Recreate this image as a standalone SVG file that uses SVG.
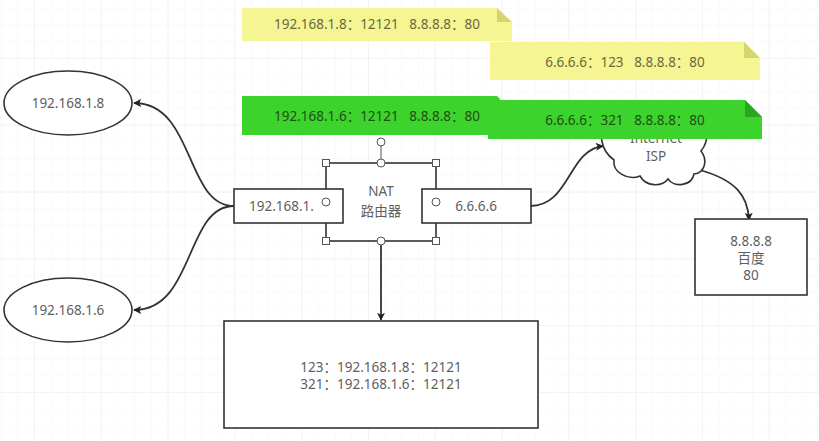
<svg xmlns="http://www.w3.org/2000/svg" width="819" height="441" viewBox="0 0 819 441">
<defs>
<pattern id="minor" x="34" y="58" width="16.7" height="16.7" patternUnits="userSpaceOnUse">
<path d="M0,0 V16.7 M0,0 H16.7" fill="none" stroke="#f6f6f6" stroke-width="1"/>
</pattern>
<pattern id="major" x="34" y="58" width="66.8" height="66.8" patternUnits="userSpaceOnUse">
<path d="M0,0 V66.8 M0,0 H66.8" fill="none" stroke="#ebebeb" stroke-width="1"/>
</pattern>
<marker id="arr" viewBox="0 0 10 10" refX="9" refY="5" markerWidth="8" markerHeight="8" orient="auto" markerUnits="userSpaceOnUse">
<path d="M0,0 L10,5 L0,10 L2.5,5 Z" fill="#222"/>
</marker>
<clipPath id="below"><rect x="600" y="139" width="120" height="60"/></clipPath>
<style>
.t{font-family:"Noto Sans","Noto Sans CJK SC",sans-serif;font-size:13.5px;fill:#5f5f5f;text-anchor:middle;white-space:pre}
.s{font-size:13.5px}
.b{fill:#fff;stroke:#333;stroke-width:1.6}
.c{fill:none;stroke:#333;stroke-width:1.8}
.h{fill:#fff;stroke:#555;stroke-width:1}
.yn{fill:#f6f594}
.yf{fill:#d6d46c}
.yt{fill:#6a6a3c}
.gn{fill:#3cd42c}
.gf{fill:#27a81c}
.gt{fill:#1f4f16}
</style>
</defs>
<rect width="819" height="441" fill="#fff"/>
<rect width="819" height="441" fill="url(#minor)"/>
<rect width="819" height="441" fill="url(#major)"/>

<g id="connectors">
<path class="c" d="M234,206 C185,206 195,103 134,103" marker-end="url(#arr)"/>
<path class="c" d="M234,206 C185,206 195,310 134,310" marker-end="url(#arr)"/>
<path class="c" d="M530,206 C570,206 568,150 603,146" marker-end="url(#arr)"/>
<path class="c" d="M700,170 C735,180 748,195 749,220" marker-end="url(#arr)"/>
<path class="c" d="M381,241 V320" marker-end="url(#arr)"/>
</g>

<g id="host1">
<ellipse class="b" cx="68" cy="103" rx="64" ry="32"/>
<text class="t" x="68" y="108">192.168.1.8</text>
</g>
<g id="host2">
<ellipse class="b" cx="68" cy="310" rx="64" ry="32"/>
<text class="t" x="68" y="315">192.168.1.6</text>
</g>

<g id="nat">
<rect class="b" x="326" y="163" width="110" height="78"/>
<text class="t" x="381" y="196">NAT</text>
<text class="t" x="381" y="216">路由器</text>
</g>
<g id="lan-port">
<rect class="b" x="234" y="189" width="109" height="34"/>
<text class="t" x="249" y="211" style="text-anchor:start">192.168.1.</text>
</g>
<g id="wan-port">
<rect class="b" x="422" y="189" width="109" height="34"/>
<text class="t" x="476" y="211">6.6.6.6</text>
</g>
<g id="handles">
<line x1="381" y1="146" x2="381" y2="163" stroke="#555" stroke-width="1"/>
<circle class="h" cx="381" cy="142" r="4"/>
<rect class="h" x="322.5" y="159.5" width="7" height="7"/>
<rect class="h" x="432.5" y="159.5" width="7" height="7"/>
<rect class="h" x="322.5" y="237.5" width="7" height="7"/>
<rect class="h" x="432.5" y="237.5" width="7" height="7"/>
<circle class="h" cx="381" cy="163" r="4"/>
<circle class="h" cx="381" cy="241" r="4"/>
<circle class="h" cx="326" cy="202" r="4"/>
<circle class="h" cx="436" cy="202" r="4"/>
</g>

<g id="table">
<rect class="b" x="224" y="321" width="314" height="107"/>
<text class="t s" x="381" y="372">123：192.168.1.8：12121</text>
<text class="t s" x="381" y="389">321：192.168.1.6：12121</text>
</g>

<g id="cloud">
<path class="b" d="M606,118 C598,132 600,150 614,160 C612,172 628,181 640,176 C646,187 662,187 668,179 C674,188 692,186 694,174 C705,173 708,160 701,151 C710,140 708,124 700,116 Z"/>
<text class="t" x="656" y="143" clip-path="url(#below)">Internet</text>
<text class="t" x="656" y="161">ISP</text>
</g>

<g id="server">
<rect class="b" x="695" y="219" width="112" height="76"/>
<text class="t" x="751" y="246">8.8.8.8</text>
<text class="t" x="751" y="263">百度</text>
<text class="t" x="751" y="280">80</text>
</g>

<g id="note1">
<path class="yn" d="M242,8 H497 L512,22 V41 H242 Z"/>
<path class="yf" d="M497,8 V22 H512 Z"/>
<text class="t yt" x="377" y="29" xml:space="preserve">192.168.1.8：12121   8.8.8.8：80</text>
</g>
<g id="note2">
<path class="yn" d="M490,42 H744 L760,58 V80 H490 Z"/>
<path class="yf" d="M744,42 V58 H760 Z"/>
<text class="t yt" x="625" y="67" xml:space="preserve">6.6.6.6：123   8.8.8.8：80</text>
</g>
<g id="note3">
<path class="gn" d="M242,96 H497 L500,99 V135 H242 Z"/>
<text class="t gt" x="377" y="121" xml:space="preserve">192.168.1.6：12121   8.8.8.8：80</text>
</g>
<g id="note4">
<path class="gn" d="M488,100 H745 L762,117 V139 H488 Z"/>
<path class="gf" d="M745,100 V117 H762 Z"/>
<text class="t gt" x="625" y="125" xml:space="preserve">6.6.6.6：321   8.8.8.8：80</text>
</g>
</svg>
